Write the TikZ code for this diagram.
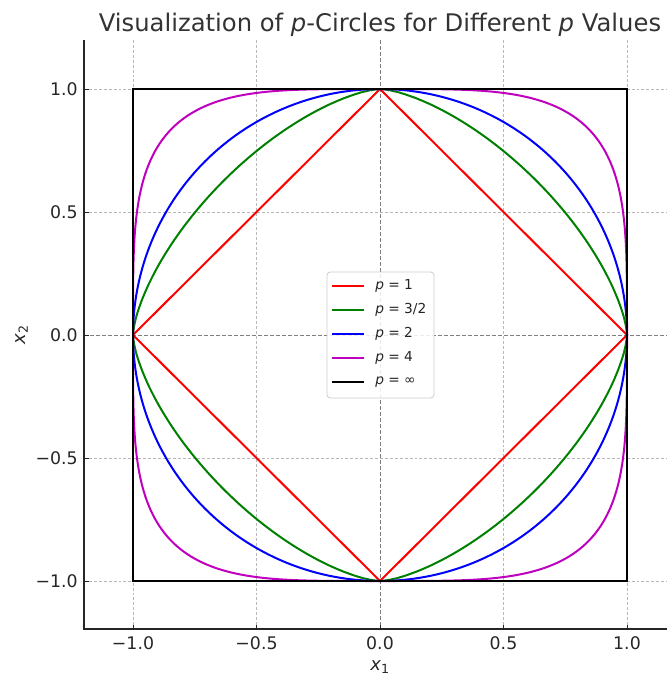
\documentclass[tikz,border=0pt]{standalone}
\usepackage{fontspec}
\setmainfont{DejaVu Sans}
\definecolor{txt}{HTML}{262626}
\definecolor{ttl}{HTML}{333333}
\definecolor{gridc}{HTML}{B8B8B8}
\definecolor{zeroc}{HTML}{7F7F7F}
\definecolor{magc}{HTML}{BF00BF}
\definecolor{grnc}{HTML}{008000}
\definecolor{redc}{HTML}{FF0000}
\definecolor{bluc}{HTML}{0000FF}
\definecolor{legedge}{HTML}{CCCCCC}
\begin{document}
\begin{tikzpicture}[x=0.75pt,y=-0.75pt,
  ticklab/.style={font=\fontsize{13}{15}\selectfont, text=txt, inner sep=0pt},
  leglab/.style={font=\fontsize{10.3}{12}\selectfont, text=txt, inner sep=0pt, anchor=west},
  axlab/.style={font=\fontsize{13.5}{16}\selectfont, text=txt, inner sep=0pt, anchor=base},
  gridline/.style={draw=gridc, line width=0.5pt, dash pattern=on 2.2pt off 1.5pt},
  zeroline/.style={draw=zeroc, line width=0.75pt, dash pattern=on 3pt off 1.5pt},
  curve/.style={line width=1.5pt, line join=round},
  spine/.style={draw=txt, line width=0.8pt},
  tickmark/.style={draw=txt, line width=0.7pt},
]
\useasboundingbox (0,0) rectangle (667,675);

% grid
\foreach \gx in {133,256.5,503.5,627} \draw[gridline] (\gx,40) -- (\gx,629);
\foreach \gy in {89,212,458,581} \draw[gridline] (84,\gy) -- (667,\gy);
% zero lines
\draw[zeroline] (380,40) -- (380,629);
\draw[zeroline] (84,335) -- (667,335);

% curves in data coordinates
\begin{scope}[shift={(380,335)}, x=185.25pt, y=184.5pt]
  \draw[curve, redc] (1,0) -- (0,1) -- (-1,0) -- (0,-1) -- cycle;
  \draw[curve, grnc]
    plot[domain=0:90, samples=121, variable=\t] ({pow(abs(cos(\t)),1.333333)}, {pow(abs(sin(\t)),1.333333)})
    -- plot[domain=0:90, samples=121, variable=\t] ({-pow(abs(sin(\t)),1.333333)}, {pow(abs(cos(\t)),1.333333)})
    -- plot[domain=0:90, samples=121, variable=\t] ({-pow(abs(cos(\t)),1.333333)}, {-pow(abs(sin(\t)),1.333333)})
    -- plot[domain=0:90, samples=121, variable=\t] ({pow(abs(sin(\t)),1.333333)}, {-pow(abs(cos(\t)),1.333333)}) -- cycle;
  \draw[curve, bluc]
    plot[domain=0:360, samples=361, variable=\t] ({cos(\t)}, {sin(\t)}) -- cycle;
  \draw[curve, magc]
    plot[domain=0:90, samples=181, variable=\t] ({sqrt(abs(cos(\t)))}, {sqrt(abs(sin(\t)))})
    -- plot[domain=0:90, samples=181, variable=\t] ({-sqrt(abs(sin(\t)))}, {sqrt(abs(cos(\t)))})
    -- plot[domain=0:90, samples=181, variable=\t] ({-sqrt(abs(cos(\t)))}, {-sqrt(abs(sin(\t)))})
    -- plot[domain=0:90, samples=181, variable=\t] ({sqrt(abs(sin(\t)))}, {-sqrt(abs(cos(\t)))}) -- cycle;
  \draw[curve, black, line join=miter] (-1,-1) rectangle (1,1);
\end{scope}

% spines
\coordinate (axTL) at (84,40);
\coordinate (axBL) at (84,629);
\coordinate (axBR) at (667,629);
\draw[spine] (axTL) -- (axBL) -- (axBR);

% ticks and labels
\foreach \v/\gy/\lab in {1/89/1.0, 2/212/0.5, 3/335/0.0, 4/458/−0.5, 5/581/−1.0} {
  \draw[tickmark] (84,\gy) -- (88.5,\gy);
  \node[ticklab, anchor=east] (yt\v) at (78,\gy) {\lab};
}
\foreach \v/\gx/\lab in {1/133/−1.0, 2/256.5/−0.5, 3/380/0.0, 4/503.5/0.5, 5/627/1.0} {
  \draw[tickmark] (\gx,629) -- (\gx,624.5);
  \node[ticklab, anchor=north] (xt\v) at (\gx,636) {\lab};
}

% axis labels and title
\node[axlab] (xlabel) at (380,670.5) {\textit{x}\textsubscript{1}};
\node[axlab, rotate=90] (ylabel) at (25,335) {\textit{x}\textsubscript{2}};
\node[font=\fontsize{18.2}{22}\selectfont, text=ttl, inner sep=0pt, anchor=base] (title) at (380,31)
  {Visualization of \textit{p}-Circles for Different \textit{p} Values};

% legend
\draw[draw=legedge, fill=white, fill opacity=0.85, line width=0.6pt, rounded corners=2.5pt] (327,272) rectangle (434,398);
\foreach \i/\gy/\col/\lab in {1/286/redc/1, 2/310/grnc/{3/2}, 3/334/bluc/2, 4/358/magc/4, 5/382/black/∞} {
  \draw[line width=1.5pt, \col] (332,\gy) -- (364,\gy);
  \node[leglab] (leg\i) at (375,\gy) {\textit{p} = \lab};
}
\end{tikzpicture}
\end{document}
